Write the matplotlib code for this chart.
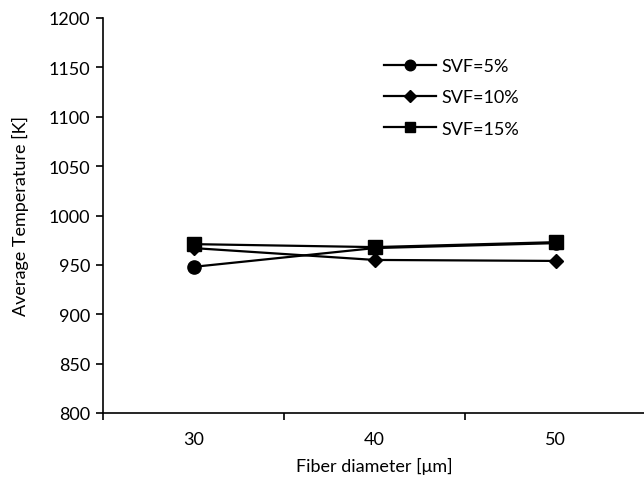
import matplotlib
matplotlib.use("Agg")
import matplotlib.pyplot as plt
from matplotlib.ticker import FixedLocator

plt.rcParams['font.family'] = ['Lato', 'DejaVu Sans']

categories = ["30", "40", "50"]
svf5 = [948, 967, 972]
svf10 = [967, 955, 954]
svf15 = [971, 968, 973]
series_names = ["SVF=5%", "SVF=10%", "SVF=15%"]

fig = plt.figure(figsize=(6.44, 4.85), dpi=100)
ax = fig.add_axes([103/644, 1-414/485, 543/644, 395/485])

x = list(range(len(categories)))
ax.plot(x, svf5, color='black', lw=1.6, marker='o', ms=9.5, label=series_names[0])
ax.plot(x, svf10, color='black', lw=1.6, marker='D', ms=7.5, label=series_names[1])
ax.plot(x, svf15, color='black', lw=1.6, marker='s', ms=9.5, label=series_names[2])

ax.set_xlim(-0.5, 2.5)
ax.set_ylim(800, 1200)
ax.set_yticks(range(800, 1201, 50))
ax.set_xticks(x)
ax.set_xticklabels(categories)
ax.xaxis.set_minor_locator(FixedLocator([-0.5, 0.5, 1.5, 2.5]))
ax.tick_params(axis='x', which='major', length=0, pad=13, labelsize=13)
ax.tick_params(axis='x', which='minor', length=5, width=1.2, direction='out')
ax.tick_params(axis='y', length=5, width=1.2, direction='out', labelsize=13, pad=4)

for s in ['top', 'right']:
    ax.spines[s].set_visible(False)
for s in ['left', 'bottom']:
    ax.spines[s].set_linewidth(1.2)

ax.set_xlabel("Fiber diameter [\u03bcm]", fontsize=13, labelpad=7)
ax.set_ylabel("Average Temperature [K]", fontsize=13, labelpad=14)

leg = ax.legend(loc='upper left', bbox_to_anchor=(384/644, 1-59/485),
                bbox_transform=fig.transFigure, frameon=False, fontsize=13,
                handlelength=2.9, handletextpad=0.3, labelspacing=0.85,
                borderpad=0, borderaxespad=0, markerscale=0.8)

fig.savefig("out.png", dpi=100)
